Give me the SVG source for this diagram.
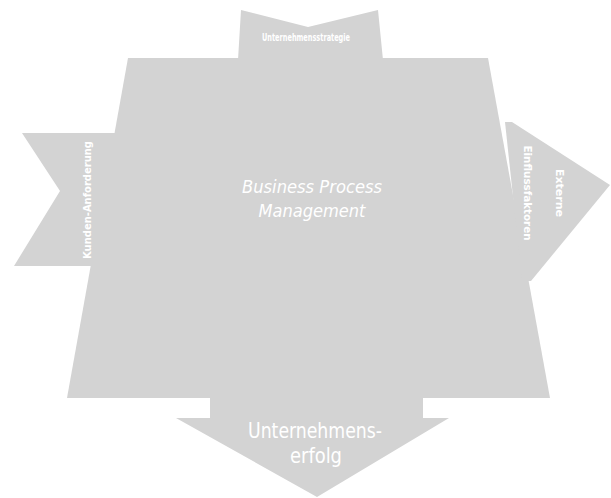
<svg xmlns="http://www.w3.org/2000/svg" width="611" height="498" viewBox="0 0 611 498">
<style>
.s{fill:#d3d3d3;stroke:none}
.t{fill:#ffffff;font-family:"Liberation Sans Narrow","DejaVu Sans Condensed","Liberation Sans",sans-serif}
</style>
<rect width="611" height="498" fill="#ffffff"/>
<g id="body">
<polygon class="s" points="128,58 488,58 550,398 67,398"/>
<text class="t" x="312" y="193" font-size="18" font-style="italic" text-anchor="middle" textLength="140" lengthAdjust="spacingAndGlyphs">Business Process</text>
<text class="t" x="312" y="217" font-size="18" font-style="italic" text-anchor="middle" textLength="107" lengthAdjust="spacingAndGlyphs">Management</text>
</g>
<g id="top-arrow">
<polygon class="s" points="241,10 308,27 378,10 383,60 238,60"/>
<text class="t" x="306" y="41" font-size="10" font-weight="bold" text-anchor="middle" textLength="88" lengthAdjust="spacingAndGlyphs">Unternehmensstrategie</text>
</g>
<g id="left-arrow">
<polygon class="s" points="22,133 125,133 125,266 14,266 60,191"/>
<text class="t" font-size="11" font-weight="bold" text-anchor="middle" transform="translate(91,200) rotate(-90)" textLength="118" lengthAdjust="spacingAndGlyphs">Kunden-Anforderung</text>
</g>
<g id="right-arrow">
<polygon class="s" points="505,122 512,122 610,185 531,281 522,281"/>
<text class="t" font-size="11" font-weight="bold" text-anchor="middle" transform="translate(556,193) rotate(90)" textLength="48" lengthAdjust="spacingAndGlyphs">Externe</text>
<text class="t" font-size="11" font-weight="bold" text-anchor="middle" transform="translate(524,193) rotate(90)" textLength="95" lengthAdjust="spacingAndGlyphs">Einflussfaktoren</text>
</g>
<g id="bottom-arrow">
<polygon class="s" points="210,390 423,390 423,418 449,418 317,497 176,418 210,418"/>
<text class="t" x="315" y="438" font-size="21" text-anchor="middle" textLength="134" lengthAdjust="spacingAndGlyphs">Unternehmens-</text>
<text class="t" x="316" y="463" font-size="21" text-anchor="middle" textLength="52" lengthAdjust="spacingAndGlyphs">erfolg</text>
</g>
<g id="connectors"></g>
</svg>
